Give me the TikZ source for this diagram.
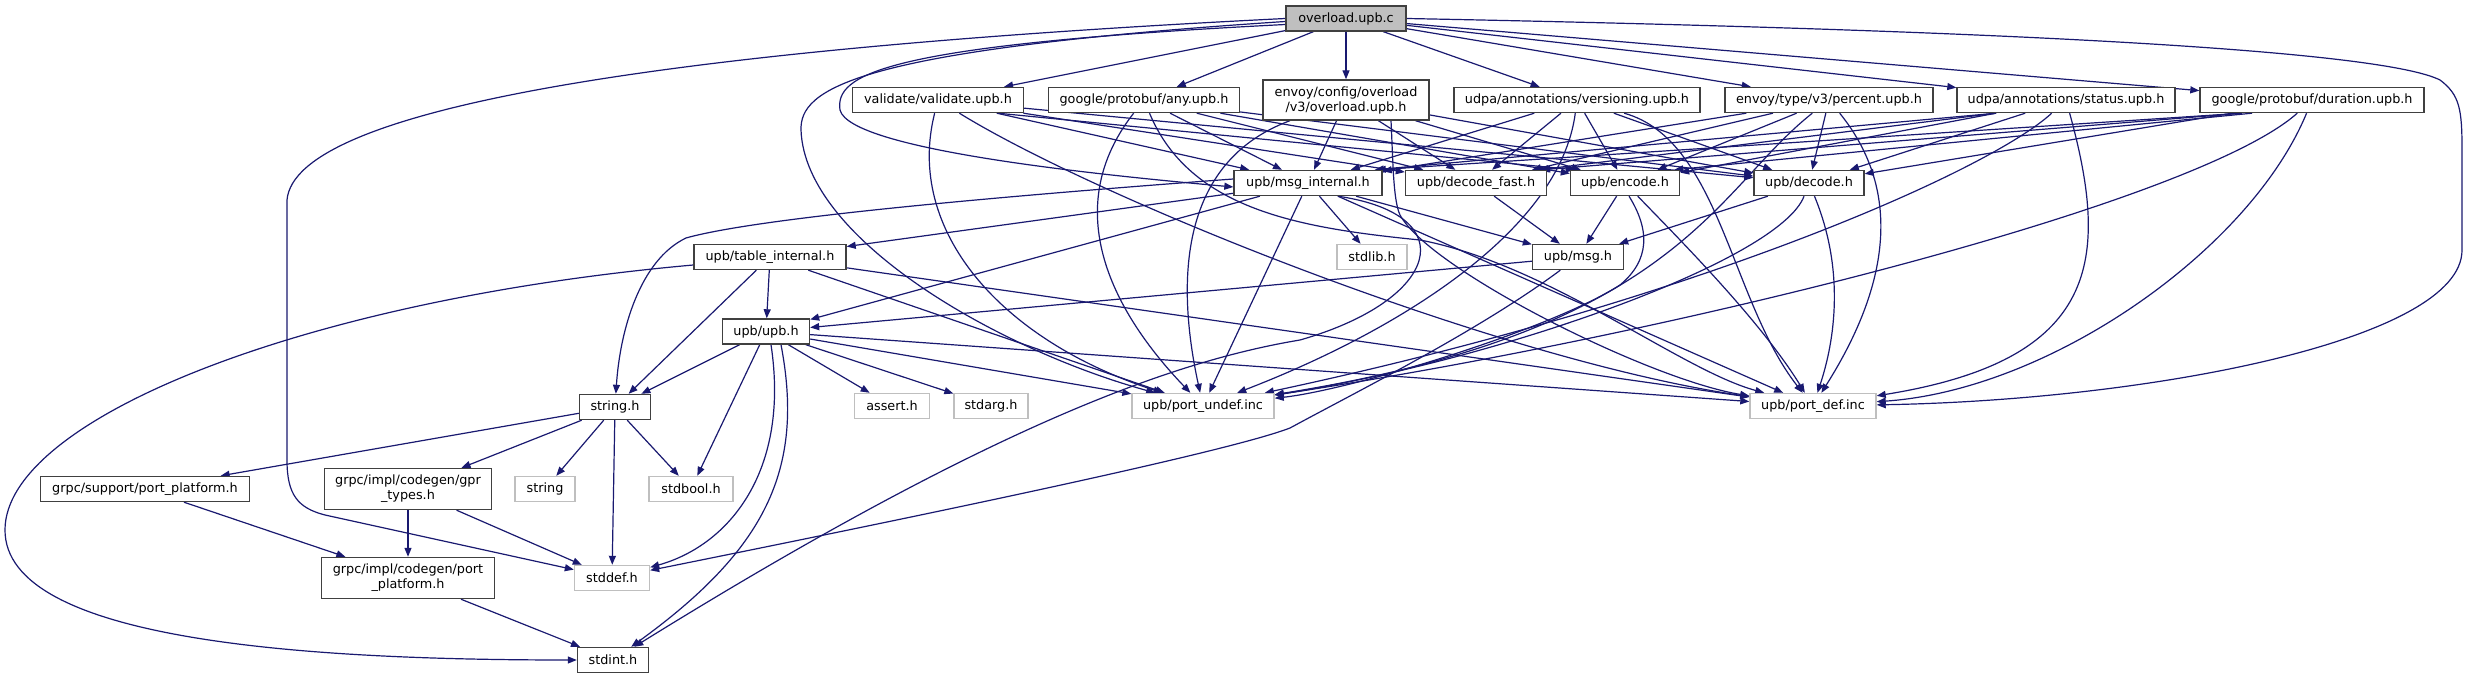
\documentclass[tikz,border=0pt]{standalone}
\usepackage{fontspec}
\setmainfont{DejaVu Sans}
\usetikzlibrary{arrows.meta}
\definecolor{edgeblue}{HTML}{191970}
\definecolor{nodegray}{HTML}{BFBFBF}
\pgfdeclarelayer{bg}
\pgfdeclarelayer{edges}
\pgfsetlayers{bg,edges,main}
\begin{document}
\begin{tikzpicture}[x=1pt,y=-1pt,
  box/.style={draw=black!75, line width=1.4pt, fill=white, inner sep=0pt, minimum height=25pt,
              font=\fontsize{12.8}{15}\selectfont, align=center},
  sysbox/.style={box, draw=nodegray},
  rootbox/.style={box, fill=nodegray},
  e/.style={draw=edgeblue, line width=1.2pt, -{Triangle[length=9pt,width=7pt]}}]
\begin{pgfonlayer}{bg}
\fill[white] (0,0) rectangle (2468,679);
\end{pgfonlayer}
\useasboundingbox (0,0) rectangle (2468,679);

% nodes
\node[rootbox, minimum width=120pt] (root) at (1346,18.5) {overload.upb.c};
\node[box, minimum width=171pt] (V) at (938,100) {validate/validate.upb.h};
\node[box, minimum width=191pt] (A) at (1144,100) {google/protobuf/any.upb.h};
\node[box, minimum width=166pt, minimum height=40pt] (E) at (1346,100) {envoy/config/overload\\/v3/overload.upb.h};
\node[box, minimum width=246pt] (VS) at (1577,100) {udpa/annotations/versioning.upb.h};
\node[box, minimum width=208pt] (P) at (1829,100) {envoy/type/v3/percent.upb.h};
\node[box, minimum width=218pt] (S) at (2066,100) {udpa/annotations/status.upb.h};
\node[box, minimum width=224pt] (D) at (2312,100) {google/protobuf/duration.upb.h};
\node[box, minimum width=148pt] (MI) at (1308,183) {upb/msg\_internal.h};
\node[box, minimum width=141pt] (DF) at (1476,183) {upb/decode\_fast.h};
\node[box, minimum width=109pt] (EN) at (1625,183) {upb/encode.h};
\node[box, minimum width=110pt] (DE) at (1809,183) {upb/decode.h};
\node[box, minimum width=152pt] (TI) at (770,257) {upb/table\_internal.h};
\node[sysbox, minimum width=70pt] (SL) at (1372,257) {stdlib.h};
\node[box, minimum width=91pt] (MS) at (1578,257) {upb/msg.h};
\node[box, minimum width=87pt] (UPB) at (766,331.5) {upb/upb.h};
\node[box, minimum width=71pt] (STR) at (615,407) {string.h};
\node[sysbox, minimum width=75pt] (AS) at (892,406) {assert.h};
\node[sysbox, minimum width=74pt] (SA) at (991,406) {stdarg.h};
\node[sysbox, minimum width=142pt] (PU) at (1203,406) {upb/port\_undef.inc};
\node[sysbox, minimum width=126pt] (PD) at (1813,406) {upb/port\_def.inc};
\node[box, minimum width=209pt] (GSP) at (145,489) {grpc/support/port\_platform.h};
\node[box, minimum width=167pt, minimum height=41pt] (GT) at (408,489) {grpc/impl/codegen/gpr\\\_types.h};
\node[sysbox, minimum width=60pt] (STRG) at (545,489) {string};
\node[sysbox, minimum width=84pt] (SB) at (691,489) {stdbool.h};
\node[box, minimum width=173pt, minimum height=41pt] (GPP) at (408,578) {grpc/impl/codegen/port\\\_platform.h};
\node[sysbox, minimum width=75pt] (SD) at (612,578) {stddef.h};
\node[box, minimum width=71pt] (SI) at (613,660) {stdint.h};

\begin{pgfonlayer}{edges}
% overload.upb.c
\draw[e] (root) -- (V);
\draw[e] (root) -- (A);
\draw[e] (root) -- (E);
\draw[e] (root) -- (VS);
\draw[e] (root) -- (P);
\draw[e] (root) -- (S);
\draw[e] (root) -- (D);
\draw[e] (root.west) .. controls (650,50) and (295,110) .. (287,200) -- (287,460)
   .. controls (287,495) and (298,508) .. (325,515) -- (SD);
\draw[e] ([yshift=-3pt]root.west) .. controls (850,50) and (800,90) .. (801,130)
   .. controls (805,240) and (1000,350) .. (PU);
\draw[e] ([yshift=-6pt]root.west) .. controls (880,45) and (835,75) .. (840,110)
   .. controls (850,150) and (1100,175) .. ([yshift=-4pt]MI.west);
\draw[e] (root.east) .. controls (2000,30) and (2380,50) .. (2440,80)
   .. controls (2460,95) and (2462,110) .. (2462,150) -- (2462,250)
   .. controls (2462,340) and (2150,400) .. (PD);

% validate
\draw[e] (V) -- (MI);
\draw[e] (V) -- (DF);
\draw[e] ([xshift=60pt]V.south) -- ([xshift=5pt]EN.north west);
\draw[e] (V) -- (DE);
\draw[e] (V) .. controls (905,230) and (1000,340) .. (PU);
\draw[e] (V) .. controls (1100,200) and (1500,360) .. (PD);

% any
\draw[e] (A) -- (MI);
\draw[e] (A) -- (DF);
\draw[e] (A) -- (EN);
\draw[e] (A) -- (DE);
\draw[e] (A) .. controls (1050,220) and (1130,330) .. (PU);
\draw[e] (A) .. controls (1190,210) and (1300,228) .. (1420,240)
   .. controls (1550,265) and (1680,370) .. (PD);

% envoy overload
\draw[e] (E) -- (MI);
\draw[e] (E) -- (DF);
\draw[e] (E) -- (EN);
\draw[e] (E) -- (DE);
\draw[e] (E) .. controls (1170,165) and (1180,300) .. (PU);
\draw[e] ([xshift=45pt]E.south) .. controls (1393,160) and (1393,200) .. (1400,215)
   .. controls (1430,270) and (1650,380) .. (PD);

% versioning
\draw[e] (VS) -- (MI);
\draw[e] (VS) -- (DF);
\draw[e] (VS) -- (EN);
\draw[e] (VS) -- (DE);
\draw[e] (VS) .. controls (1560,230) and (1400,330) .. (PU);
\draw[e] (VS) .. controls (1720,140) and (1730,300) .. (PD);

% percent
\draw[e] (P) -- (MI);
\draw[e] (P) -- (DF);
\draw[e] (P) -- (EN);
\draw[e] (P) -- (DE);
\draw[e] (P) .. controls (1715,190) and (1680,330) .. (PU);
\draw[e] (P) .. controls (1910,200) and (1880,300) .. (PD);

% status
\draw[e] ([xshift=-70pt]S.south) -- ([xshift=-8pt]MI.north east);
\draw[e] ([xshift=-70pt]S.south) -- ([xshift=-8pt]DF.north east);
\draw[e] (S) -- (EN);
\draw[e] (S) -- (DE);
\draw[e] (S) .. controls (1990,170) and (1700,300) .. (PU);
\draw[e] (S) .. controls (2110,260) and (2100,360) .. (PD);

% duration
\draw[e] ([xshift=-70pt]D.south) -- ([xshift=-6pt]MI.north east);
\draw[e] ([xshift=-70pt]D.south) -- ([xshift=-6pt]DF.north east);
\draw[e] ([xshift=-60pt]D.south) -- ([xshift=-6pt]EN.north east);
\draw[e] (D) -- (DE);
\draw[e] (D) .. controls (2200,200) and (1700,330) .. (PU);
\draw[e] (D) .. controls (2250,250) and (2050,390) .. (PD);

% msg_internal
\draw[e] (MI) -- (SL);
\draw[e] (MI) -- (MS);
\draw[e] (MI) -- (TI);
\draw[e] (MI) -- (UPB);
\draw[e] (MI) -- (PU);
\draw[e] (MI) -- (PD);
\draw[e] ([yshift=4pt]MI.west) .. controls (950,200) and (750,220) .. (686,238)
   .. controls (640,260) and (620,330) .. (STR);
\draw[e] ([xshift=30pt]MI.south) .. controls (1465,215) and (1440,300) .. (1300,340)
   .. controls (1180,360) and (1000,420) .. (SI);

% decode_fast, encode, decode, msg
\draw[e] (DF) -- (MS);
\draw[e] (EN) -- (MS);
\draw[e] (EN) .. controls (1680,240) and (1760,320) .. (PD);
\draw[e] ([xshift=4pt]EN.south) .. controls (1650,230) and (1650,260) .. (1620,285)
   .. controls (1550,330) and (1350,390) .. (PU);
\draw[e] (DE) -- (MS);
\draw[e] (DE) .. controls (1845,270) and (1835,340) .. (PD);
\draw[e] (DE) .. controls (1780,260) and (1500,360) .. (PU);
\draw[e] (MS) -- (UPB);
\draw[e] (MS) .. controls (1480,330) and (1360,390) .. (1290,428)
   .. controls (1220,455) and (850,530) .. (SD);

% table_internal
\draw[e] ([yshift=-8pt]TI.west) .. controls (300,300) and (5,420) .. (5,530)
   .. controls (5,640) and (300,660) .. (SI.west);
\draw[e] (TI) -- (STR);
\draw[e] (TI) -- (UPB);
\draw[e] (TI) -- (PU);
\draw[e] (TI) -- (PD);

% upb.h
\draw[e] (UPB) -- (STR);
\draw[e] (UPB) -- (SB);
\draw[e] ([xshift=5pt]UPB.south) .. controls (790,470) and (730,545) .. (SD);
\draw[e] ([xshift=15pt]UPB.south) .. controls (805,470) and (765,550) .. (SI);
\draw[e] (UPB) -- (AS);
\draw[e] (UPB) -- (SA);
\draw[e] (UPB) -- (PU);
\draw[e] (UPB) -- (PD);

% string.h
\draw[e] (STR) -- (GSP);
\draw[e] (STR) -- (GT);
\draw[e] (STR) -- (STRG);
\draw[e] (STR) -- (SB);
\draw[e] (STR) -- (SD);

% grpc
\draw[e] (GSP) -- (GPP);
\draw[e] (GT) -- (GPP);
\draw[e] (GT) -- (SD);
\draw[e] (GPP) -- (SI);
\end{pgfonlayer}
\end{tikzpicture}
\end{document}
